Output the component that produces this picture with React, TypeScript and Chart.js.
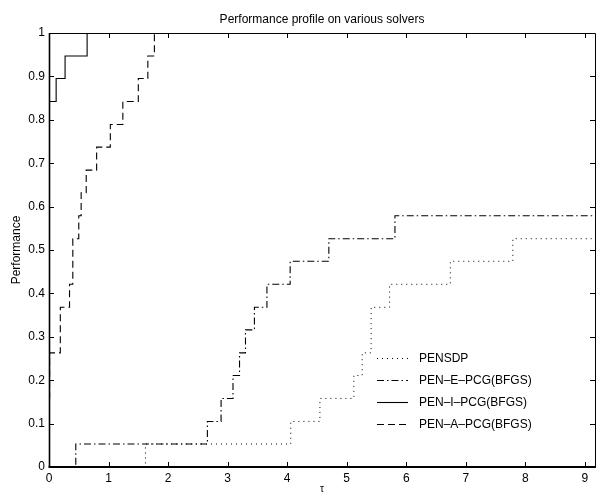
import { useEffect, useRef } from "react";
import { Chart, registerables } from "chart.js";

Chart.register(...registerables);

const chartTitle = "Performance profile on various solvers";
const yAxisTitle = "Performance";
const xAxisTitle = "τ";

const seriesNames = ["PENSDP", "PEN–E–PCG(BFGS)", "PEN–I–PCG(BFGS)", "PEN–A–PCG(BFGS)"];

const tauPENSDP = [0, 1.62, 4.06, 4.55, 5.12, 5.26, 5.41, 5.72, 6.74, 7.79, 9.17];
const perfPENSDP = [0, 0.053, 0.105, 0.158, 0.211, 0.263, 0.368, 0.421, 0.474, 0.526, 0.526];

const tauPENE = [0, 0.45, 2.66, 2.89, 3.09, 3.2, 3.3, 3.45, 3.66, 4.05, 4.7, 5.81, 9.17];
const perfPENE = [0, 0.053, 0.105, 0.158, 0.211, 0.263, 0.316, 0.368, 0.421, 0.474, 0.526, 0.579, 0.579];

const tauPENI = [0, 0.12, 0.27, 0.64, 9.17];
const perfPENI = [0.842, 0.895, 0.947, 1, 1];

const tauPENA = [0.01, 0.01, 0.19, 0.345, 0.4, 0.5, 0.54, 0.625, 0.8, 1.03, 1.24, 1.5, 1.66, 1.77, 9.17];
const perfPENA = [0.158, 0.263, 0.368, 0.421, 0.526, 0.579, 0.632, 0.684, 0.737, 0.789, 0.842, 0.895, 0.947, 1, 1];

const xMin = 0;
const xMax = 9.17;
const yMin = 0;
const yMax = 1;

const FONT = "'Liberation Sans', Arial, Helvetica, sans-serif";

function pts(xs: number[], ys: number[]) {
  return xs.map((x, i) => ({ x, y: ys[i] }));
}

const dashes: number[][] = [[1, 4], [7, 3, 1.5, 3], [], [7, 4]];

export default function App() {
  const ref = useRef<HTMLCanvasElement | null>(null);

  useEffect(() => {
    document.body.style.margin = "0";
    const canvas = ref.current;
    if (!canvas) return;

    const framePlugin = {
      id: "frame",
      afterDraw(chart: any) {
        const { ctx, chartArea } = chart;
        const { left, right, top, bottom } = chartArea;
        const xs = chart.scales.x;
        const ys = chart.scales.y;
        ctx.save();
        ctx.strokeStyle = "#000";
        ctx.setLineDash([]);
        // top & right
        ctx.lineWidth = 1;
        ctx.beginPath();
        ctx.moveTo(left, Math.round(top) + 0.5);
        ctx.lineTo(Math.round(right) + 0.5, Math.round(top) + 0.5);
        ctx.lineTo(Math.round(right) + 0.5, bottom);
        ctx.stroke();
        // left & bottom (heavier)
        ctx.lineWidth = 1.6;
        ctx.beginPath();
        ctx.moveTo(Math.round(left) + 0.5, top);
        ctx.lineTo(Math.round(left) + 0.5, bottom);
        ctx.stroke();
        ctx.lineWidth = 2;
        ctx.beginPath();
        ctx.moveTo(left - 0.5, Math.round(bottom));
        ctx.lineTo(right + 1, Math.round(bottom));
        ctx.stroke();

        const tl = 5;
        ctx.lineWidth = 1;
        ctx.beginPath();
        xs.ticks.forEach((t: any) => {
          const px = Math.round(xs.getPixelForValue(t.value)) + 0.5;
          ctx.moveTo(px, bottom);
          ctx.lineTo(px, bottom - tl);
          ctx.moveTo(px, top);
          ctx.lineTo(px, top + tl);
        });
        ys.ticks.forEach((t: any) => {
          const py = Math.round(ys.getPixelForValue(t.value)) + 0.5;
          ctx.moveTo(left, py);
          ctx.lineTo(left + tl, py);
          ctx.moveTo(right, py);
          ctx.lineTo(right - tl, py);
        });
        ctx.stroke();

        // title
        ctx.fillStyle = "#000";
        ctx.font = `12px ${FONT}`;
        ctx.textAlign = "center";
        ctx.textBaseline = "middle";
        ctx.fillText(chartTitle, (left + right) / 2, 20);
        // x title
        ctx.font = `10px ${FONT}`;
        ctx.fillText(xAxisTitle, (left + right) / 2, 489);
        // y title
        ctx.save();
        ctx.translate(16.5, (top + bottom) / 2);
        ctx.rotate(-Math.PI / 2);
        ctx.font = `12px ${FONT}`;
        ctx.fillText(yAxisTitle, 0, 0);
        ctx.restore();

        // legend
        ctx.font = `12px ${FONT}`;
        ctx.textAlign = "left";
        chart.data.datasets.forEach((ds: any, i: number) => {
          const y = 358 + i * 22;
          ctx.beginPath();
          ctx.setLineDash(ds.borderDash || []);
          ctx.lineWidth = ds.borderWidth;
          ctx.strokeStyle = ds.borderColor;
          ctx.moveTo(377, y + 0.5);
          ctx.lineTo(408, y + 0.5);
          ctx.stroke();
          ctx.setLineDash([]);
          ctx.fillStyle = "#000";
          ctx.fillText(ds.label, 419, y + 1);
        });
        ctx.restore();
      },
    };

    const datasets = [
      [tauPENSDP, perfPENSDP],
      [tauPENE, perfPENE],
      [tauPENI, perfPENI],
      [tauPENA, perfPENA],
    ].map(([xs, ys], i) => ({
      label: seriesNames[i],
      data: pts(xs, ys),
      borderColor: "#000",
      borderWidth: i === 0 ? 1 : 1.1,
      borderDash: dashes[i],
      stepped: true as const,
      pointRadius: 0,
      fill: false,
    }));

    const chart = new Chart(canvas, {
      type: "line",
      data: { datasets },
      plugins: [framePlugin],
      options: {
        animation: false,
        responsive: false,
        maintainAspectRatio: false,
        layout: { padding: { left: 0, right: 2, top: 33, bottom: 0 } },
        plugins: {
          legend: { display: false },
          title: { display: false },
          tooltip: { enabled: false },
        },
        scales: {
          x: {
            type: "linear",
            min: xMin,
            max: xMax,
            grid: { display: false, drawTicks: false },
            border: { display: false },
            ticks: {
              stepSize: 1,
              includeBounds: false,
              padding: 4,
              color: "#000",
              font: { family: FONT, size: 12 },
              maxRotation: 0,
              callback: (v: any) => String(Math.round(Number(v))),
            },
            afterFit: (s: any) => {
              s.height = 28;
            },
          },
          y: {
            type: "linear",
            min: yMin,
            max: yMax,
            grid: { display: false, drawTicks: false },
            border: { display: false },
            ticks: {
              stepSize: 0.1,
              padding: 4,
              color: "#000",
              font: { family: FONT, size: 12 },
              callback: (v: any) => String(Number(Number(v).toFixed(1))),
            },
            afterFit: (s: any) => {
              s.width = 49;
            },
          },
        },
      },
    });

    return () => chart.destroy();
  }, []);

  return <canvas ref={ref} width={597} height={495} style={{ display: "block" }} />;
}
